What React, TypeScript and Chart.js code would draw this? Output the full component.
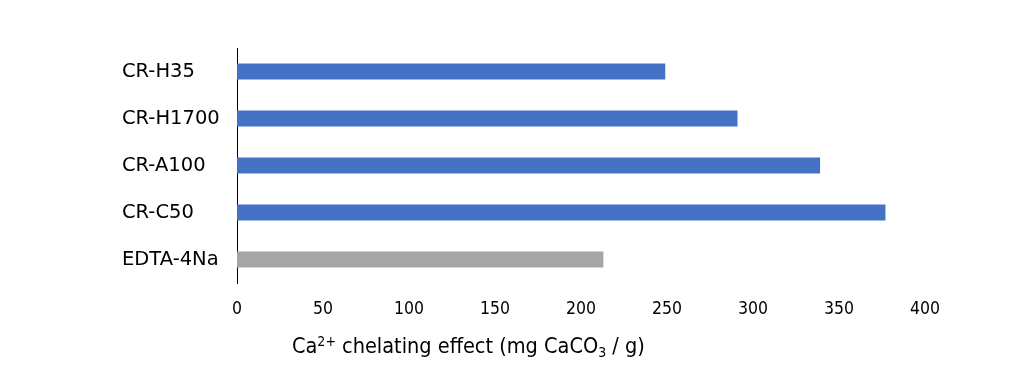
import React, { useEffect, useRef } from "react";
import { Chart, registerables } from "chart.js";

Chart.register(...registerables);

const categories = ["CR-H35", "CR-H1700", "CR-A100", "CR-C50", "EDTA-4Na"];
const values = [249, 291, 339, 377, 213];
const barColors = ["#4472C4", "#4472C4", "#4472C4", "#4472C4", "#A5A5A5"];
const axisMin = 0;
const axisMax = 400;
const axisStep = 50;

const FONT = "'DejaVu Sans', Verdana, sans-serif";
const COND = "'DejaVu Sans Condensed', 'DejaVu Sans', sans-serif";

const titlePlugin = {
  id: "xTitle",
  afterDraw(chart: any) {
    const { ctx, chartArea } = chart;
    const x0 = chartArea.left + 55;
    const y = chartArea.bottom + 70;
    ctx.save();
    ctx.fillStyle = "#000";
    ctx.textBaseline = "alphabetic";
    ctx.textAlign = "left";
    const big = `21.5px ${COND}`;
    const small = `14px ${COND}`;
    const parts: [string, string, number][] = [
      ["Ca", big, 0],
      ["2+", small, -7],
      [" chelating effect (mg CaCO", big, 0],
      ["3", small, 4],
      [" / g)", big, 0],
    ];
    let x = x0;
    for (const [t, f, dy] of parts) {
      ctx.font = f;
      ctx.fillText(t, x, y + dy);
      x += ctx.measureText(t).width;
    }
    ctx.restore();
  },
};

export default function App() {
  const ref = useRef<HTMLCanvasElement>(null);
  useEffect(() => {
    if (!ref.current) return;
    const chart = new Chart(ref.current, {
      type: "bar",
      data: {
        labels: categories,
        datasets: [
          {
            data: values,
            backgroundColor: barColors,
            borderWidth: 0,
            barPercentage: 0.34,
            categoryPercentage: 1,
          },
        ],
      },
      options: {
        indexAxis: "y",
        animation: false,
        responsive: true,
        maintainAspectRatio: false,
        layout: { padding: { left: 122, right: 99, top: 48, bottom: 54 } },
        plugins: {
          legend: { display: false },
          tooltip: { enabled: false },
        },
        scales: {
          x: {
            min: axisMin,
            max: axisMax,
            ticks: {
              stepSize: axisStep,
              color: "#000",
              font: { family: COND, size: 17.5 },
              padding: 16,
            },
            grid: { display: false, drawTicks: false },
            border: { display: false },
            afterFit: (s: any) => {
              s.height = 36;
            },
          },
          y: {
            ticks: {
              color: "#000",
              font: { family: FONT, size: 19.5 },
              crossAlign: "far",
              padding: 16,
            },
            grid: { display: false, drawTicks: false },
            border: { display: true, color: "#000", width: 1 },
            afterFit: (s: any) => {
              s.width = 115;
            },
          },
        },
      },
      plugins: [titlePlugin],
    });
    return () => chart.destroy();
  }, []);
  return (
    <div style={{ position: "absolute", left: 0, top: 0, width: 1024, height: 373, background: "#fff" }}>
      <canvas ref={ref} />
    </div>
  );
}
